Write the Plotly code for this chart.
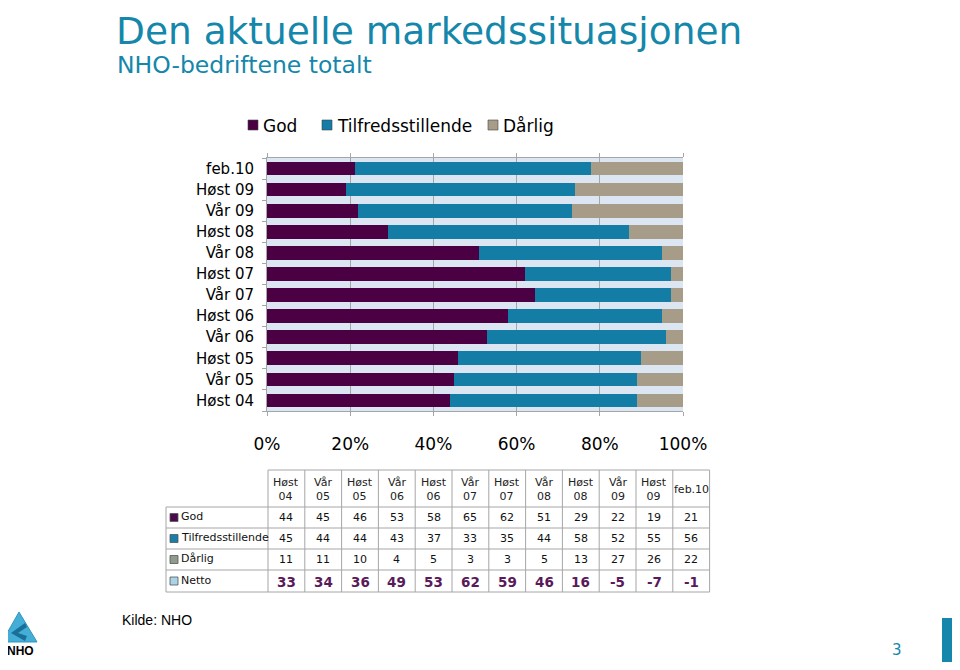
import plotly.graph_objects as go

# ---------------- data ----------------
periods = ["Høst 04", "Vår 05", "Høst 05", "Vår 06", "Høst 06", "Vår 07",
           "Høst 07", "Vår 08", "Høst 08", "Vår 09", "Høst 09", "feb.10"]
god = [44, 45, 46, 53, 58, 65, 62, 51, 29, 22, 19, 21]
tilfreds = [45, 44, 44, 43, 37, 33, 35, 44, 58, 52, 55, 56]
darlig = [11, 11, 10, 4, 5, 3, 3, 5, 13, 27, 26, 22]
netto = [33, 34, 36, 49, 53, 62, 59, 46, 16, -5, -7, -1]
x_ticks = [0, 20, 40, 60, 80, 100]
x_tick_labels = ["0%", "20%", "40%", "60%", "80%", "100%"]

series_names = ["God", "Tilfredsstillende", "Dårlig"]
bar_colors = ["#4a0042", "#147da5", "#a79c88"]
table_key_colors = ["#4b0a4b", "#1a7fa7", "#8f9b8e", "#a9d3e6"]

OFF = 8                      # page body margin
W, H = 960 - 2 * OFF, 670 - 2 * OFF
L, R, T, B = 267, 683, 158, 411   # plot area in page pixels


def px(x):
    return (x - L) / (R - L)


def py(y):
    return (B - y) / (B - T)


fig = go.Figure()
for name, vals, col in zip(series_names, [god, tilfreds, darlig], bar_colors):
    fig.add_trace(go.Bar(y=periods, x=vals, name=name, orientation="h",
                         marker=dict(color=col, line=dict(width=0)), showlegend=False))

FONT = "DejaVu Sans"
fig.update_layout(
    width=W, height=H,
    margin=dict(l=L - OFF, r=(OFF + W) - R, t=T - OFF, b=(OFF + H) - B, pad=0),
    paper_bgcolor="white", plot_bgcolor="#dce6f2",
    barmode="stack", barnorm="percent", bargap=0.35,
    font=dict(family=FONT, color="black"),
    showlegend=False,
    xaxis=dict(range=[0, 100], tickvals=x_ticks, ticktext=x_tick_labels,
               showgrid=True, gridcolor="#a6a6a6", gridwidth=1,
               showline=True, linecolor="#a6a6a6", mirror="ticks",
               ticks="outside", ticklen=4, tickcolor="#a6a6a6",
               ticklabelstandoff=14, tickfont=dict(size=17), zeroline=False),
    yaxis=dict(categoryorder="array", categoryarray=periods,
               showline=True, linecolor="#a6a6a6", ticks="outside",
               tickson="boundaries", ticklen=4, tickcolor="#a6a6a6",
               tickfont=dict(size=15), ticklabelstandoff=9, showgrid=False),
)

ann = []
shapes = []


def text(t, x, y, size, color="black", anchor="left", family=FONT):
    ann.append(dict(text=t, x=px(x), y=py(y), xref="paper", yref="paper",
                    xanchor=anchor, yanchor="middle", showarrow=False,
                    font=dict(size=size, color=color, family=family)))


def rect(x0, y0, x1, y1, fill, lc=None, lw=0):
    shapes.append(dict(type="rect", xref="paper", yref="paper",
                       x0=px(x0), x1=px(x1), y0=py(y0), y1=py(y1),
                       fillcolor=fill, line=dict(color=lc or fill, width=lw)))


# titles
text("Den aktuelle markedssituasjonen", 114, 31, 37.5, "#1487aa")
text("NHO-bedriftene totalt", 115, 65, 23.5, "#1487aa")

# legend (manual, to match spacing)
leg_sq_x = [248, 322, 488]
for nm, col, lx in zip(series_names, bar_colors, leg_sq_x):
    rect(lx, 120, lx + 10, 130, col, "#444", 0.6)
    text(nm, lx + 13, 125.5, 17)

# ---------------- table ----------------
col_x0 = 268
col_w = 36.8
ncol = len(periods)
tab_right = col_x0 + ncol * col_w
lab_x0 = 166
row_lines = [507, 528, 549, 570, 592]
head_top = 470
gc = "#a6a6a6"


def line(x0, y0, x1, y1):
    shapes.append(dict(type="line", xref="paper", yref="paper",
                       x0=px(x0), y0=py(y0), x1=px(x1), y1=py(y1),
                       line=dict(color=gc, width=1)))


line(col_x0, head_top, tab_right, head_top)
for yl in row_lines:
    line(lab_x0, yl, tab_right, yl)
line(lab_x0, row_lines[0], lab_x0, row_lines[-1])
for i in range(ncol + 1):
    line(col_x0 + i * col_w, head_top, col_x0 + i * col_w, row_lines[-1])

# header labels
for i, p in enumerate(periods):
    cx = col_x0 + (i + 0.5) * col_w
    text(p.replace(" ", "<br>"), cx, (head_top + row_lines[0]) / 2 + 1, 11, "#222", "center")

row_names = series_names + ["Netto"]
row_vals = [god, tilfreds, darlig, netto]
for r, (nm, vals) in enumerate(zip(row_names, row_vals)):
    yc = (row_lines[r] + row_lines[r + 1]) / 2
    rect(170, yc - 4, 178, yc + 4, table_key_colors[r], "#555", 0.8)
    text(nm, 179, yc - 1, 11, "#111")
    for i, v in enumerate(vals):
        cx = col_x0 + (i + 0.5) * col_w
        if nm == "Netto":
            text(f"<b>{v}</b>", cx, yc + 0.5, 13.5, "#5a1a5a", "center")
        else:
            text(str(v), cx, yc, 11, "#111", "center")

# ---------------- footer ----------------
text("Kilde: NHO", 120, 620, 14, "black", "left", "Liberation Sans")
text("<b>NHO</b>", 20, 651, 12, "black", "center", "Liberation Sans")
text("3", 897, 650, 15, "#1487aa", "center")


# NHO logo (approximation)
def pth(points):
    s = ""
    for k, (a, b) in enumerate(points):
        s += ("M" if k == 0 else "L") + f"{px(a):.5f},{py(b):.5f} "
    return s + "Z"


shapes.append(dict(type="path", xref="paper", yref="paper",
                   path=pth([(19, 612), (37, 642), (2, 642)]),
                   fillcolor="#45aed6", line=dict(color="#2f95c0", width=1)))
shapes.append(dict(type="path", xref="paper", yref="paper",
                   path=pth([(25, 623), (11, 633), (25, 641), (27, 636), (18, 633), (27, 627)]),
                   fillcolor="#1a6f99", line=dict(width=0)))
# right edge bar
rect(942, 618, OFF + W, OFF + H, "#1487aa")

fig.update_layout(annotations=ann, shapes=shapes)
fig.write_html("out.html")
